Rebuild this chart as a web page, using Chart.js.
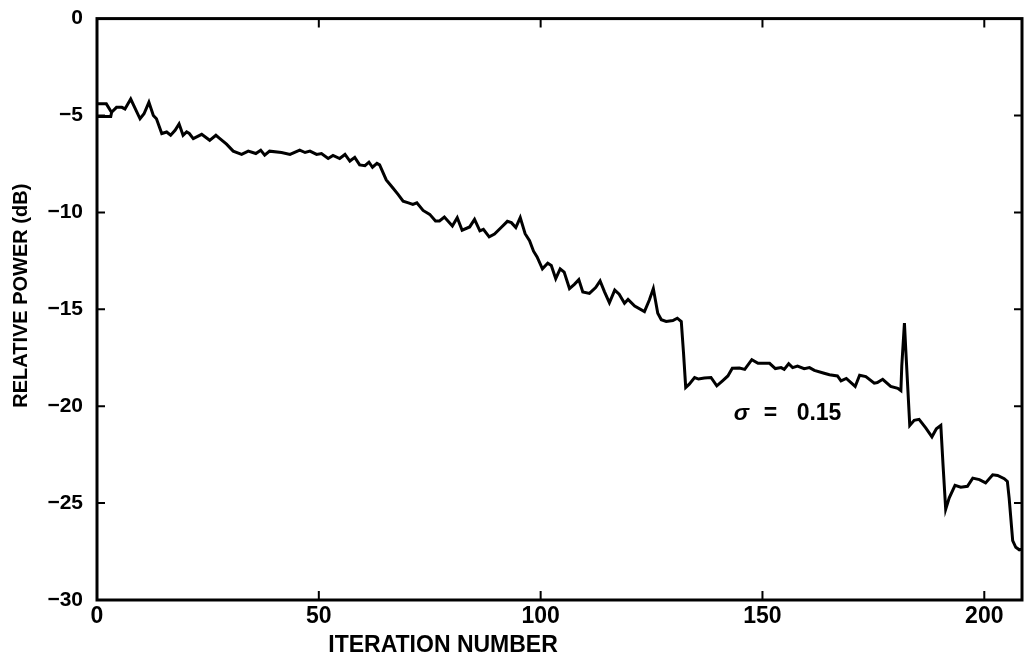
<!DOCTYPE html>
<html>
<head>
<meta charset="utf-8">
<script src="https://cdn.jsdelivr.net/npm/chart.js@4.4.1/dist/chart.umd.min.js"></script>
<style>
  html, body { margin: 0; padding: 0; background: #fff; }
</style>
</head>
<body>
<canvas id="power_chart" width="1027" height="657"></canvas>
<script>
// iteration number vs relative power (dB)
const iterations = [0, 3.1, 3.3, 4.4, 5.6, 6.3, 7.6, 9.7, 10.6, 11.7, 12.7, 13.4, 14.6, 15.7, 16.6, 17.6, 18.5, 19.4, 20.2, 20.8,
  21.7, 23.6, 25.4, 26.8, 27.7, 29.2, 30.7, 32.6, 34.1, 35.8, 36.9, 37.8, 38.9, 41.6, 43.5, 45.7, 46.9, 48.0, 49.5, 50.6,
  52.1, 53.2, 54.7, 55.9, 57.0, 58.1, 59.2, 60.4, 61.3, 62.1, 63.1, 63.7, 65.2, 66.7, 67.9, 69.0, 70.2, 71.2, 72.1, 73.5,
  75.0, 76.3, 77.2, 78.3, 80.1, 81.2, 82.3, 84.0, 85.1, 86.3, 87.1, 88.4, 89.6, 91.1, 92.5, 93.4, 94.4, 95.4, 96.5, 97.5,
  98.4, 99.2, 100.4, 101.6, 102.4, 103.4, 104.4, 105.3, 106.5, 107.6, 108.6, 109.5, 111.0, 112.4, 113.4, 114.4, 115.5, 116.7, 117.7, 118.9,
  119.7, 121.2, 123.4, 124.5, 125.4, 126.4, 127.2, 128.3, 129.8, 130.8, 131.7, 132.2, 132.7, 133.5, 134.7, 135.6, 136.9, 138.4, 139.7, 141.0,
  142.2, 143.2, 144.8, 146.0, 147.6, 149.0, 151.6, 152.9, 154.2, 154.9, 155.9, 156.8, 157.9, 159.4, 160.6, 161.7, 163.9, 165.1, 166.9, 167.7,
  168.9, 170.9, 171.9, 173.3, 175.2, 175.9, 177.1, 178.9, 180.5, 181.2, 181.4, 182.0, 182.3, 183.2, 184.2, 185.3, 186.8, 188.2, 189.2, 190.2,
  190.7, 191.3, 192.1, 193.4, 194.7, 196.2, 197.4, 198.9, 200.3, 201.9, 203.0, 204.5, 205.2, 205.6, 206.4, 207.1, 207.9, 209.0];
const powerDb = [-5.05, -5.05, -4.83, -4.58, -4.58, -4.66, -4.15, -5.17, -4.91, -4.32, -5.0, -5.17, -5.93, -5.85, -6.02, -5.76, -5.43, -6.02, -5.85, -5.93,
  -6.19, -5.97, -6.28, -6.02, -6.19, -6.48, -6.84, -7.01, -6.84, -6.96, -6.79, -7.05, -6.84, -6.91, -7.01, -6.79, -6.91, -6.84, -7.01, -6.96,
  -7.22, -7.06, -7.22, -7.01, -7.35, -7.16, -7.55, -7.59, -7.41, -7.67, -7.47, -7.55, -8.32, -8.74, -9.08, -9.42, -9.51, -9.59, -9.51, -9.90,
  -10.1, -10.44, -10.44, -10.24, -10.70, -10.27, -10.92, -10.75, -10.36, -10.95, -10.87, -11.26, -11.12, -10.78, -10.46, -10.53, -10.78, -10.27, -11.1, -11.46,
  -12.0, -12.3, -12.91, -12.62, -12.74, -13.42, -12.91, -13.08, -13.93, -13.71, -13.47, -14.1, -14.18, -13.88, -13.54, -14.1, -14.66, -14.01, -14.22, -14.69,
  -14.49, -14.83, -15.12, -14.52, -13.93, -15.2, -15.54, -15.63, -15.58, -15.46, -15.63, -17.24, -19.03, -18.86, -18.52, -18.6, -18.55, -18.52, -18.95, -18.69,
  -18.44, -18.04, -18.03, -18.1, -17.6, -17.79, -17.79, -18.06, -18.01, -18.1, -17.81, -18.01, -17.93, -18.06, -18.01, -18.15, -18.3, -18.38, -18.44, -18.69,
  -18.57, -18.98, -18.4, -18.47, -18.81, -18.78, -18.61, -18.98, -19.08, -19.2, -17.93, -15.71, -17.08, -20.99, -20.73, -20.68, -21.12, -21.58, -21.16, -20.99,
  -23.03, -25.32, -24.73, -24.08, -24.18, -24.13, -23.71, -23.79, -23.96, -23.54, -23.57, -23.74, -23.88, -24.73, -26.94, -27.28, -27.41, -27.36];

// the short upper stroke at the very start of the trace
const startIter = [0, 2.1, 3.3];
const startPower = [-4.4, -4.4, -4.85];

const xTickStep = 50;
const yTickStep = 5;
const xTitle = "ITERATION NUMBER";
const yTitle = "RELATIVE POWER (dB)";
const sigmaText = ["\u03c3", "=", "0.15"];

const FONT = "'Liberation Sans', Arial, Helvetica, sans-serif";

const toPoints = (xs, ys) => xs.map((x, i) => ({ x: x, y: ys[i] }));

// frame, inward ticks, titles and the sigma note
const frame_plugin = {
  id: "frame_plugin",
  afterDraw(chart) {
    const ctx = chart.ctx;
    const a = chart.chartArea;
    const xs = chart.scales.x;
    const ys = chart.scales.y;
    ctx.save();
    ctx.strokeStyle = "#000";
    ctx.lineWidth = 3;
    ctx.strokeRect(a.left, a.top, a.right - a.left, a.bottom - a.top);

    ctx.lineWidth = 2;
    ctx.beginPath();
    xs.ticks.forEach(t => {
      if (t.value <= xs.min || t.value >= xs.max) return;
      const px = xs.getPixelForValue(t.value);
      ctx.moveTo(px, a.bottom); ctx.lineTo(px, a.bottom - 9);
      ctx.moveTo(px, a.top); ctx.lineTo(px, a.top + 9);
    });
    ys.ticks.forEach(t => {
      if (t.value <= ys.min || t.value >= ys.max) return;
      const py = ys.getPixelForValue(t.value);
      ctx.moveTo(a.left, py); ctx.lineTo(a.left + 8, py);
      ctx.moveTo(a.right, py); ctx.lineTo(a.right - 8, py);
    });
    ctx.stroke();

    ctx.fillStyle = "#000";
    ctx.font = "bold 23px " + FONT;
    ctx.textAlign = "center";
    ctx.textBaseline = "alphabetic";
    ctx.fillText(xTitle, xs.getPixelForValue(78), 652);

    ctx.save();
    ctx.translate(21, ys.getPixelForValue(-14.3));
    ctx.rotate(-Math.PI / 2);
    ctx.font = "bold 20px " + FONT;
    ctx.textBaseline = "middle";
    ctx.fillText(yTitle, 0, 0);
    ctx.restore();

    const base = ys.getPixelForValue(-20.7);
    ctx.textAlign = "left";
    ctx.font = "italic bold 23px " + FONT;
    ctx.fillText(sigmaText[0], xs.getPixelForValue(143.5), base);
    ctx.font = "bold 23px " + FONT;
    ctx.fillText(sigmaText[1], xs.getPixelForValue(150.3), base);
    ctx.fillText(sigmaText[2], xs.getPixelForValue(157.7), base);
    ctx.restore();
  }
};

const power_chart = new Chart(document.getElementById("power_chart"), {
  type: "scatter",
  data: {
    datasets: [
      {
        data: toPoints(iterations, powerDb),
        showLine: true,
        borderColor: "#000",
        borderWidth: 3,
        pointRadius: 0,
        tension: 0
      },
      {
        data: toPoints(startIter, startPower),
        showLine: true,
        borderColor: "#000",
        borderWidth: 3,
        pointRadius: 0,
        tension: 0
      }
    ]
  },
  options: {
    responsive: false,
    animation: false,
    devicePixelRatio: 1,
    layout: { padding: { left: 0, top: 12, right: 5, bottom: 0 } },
    plugins: {
      legend: { display: false },
      tooltip: { enabled: false }
    },
    scales: {
      x: {
        type: "linear",
        min: 0,
        max: 208.5,
        afterFit: s => { s.height = 57; },
        grid: { display: false },
        border: { display: false },
        ticks: {
          stepSize: xTickStep,
          includeBounds: false,
          maxRotation: 0,
          autoSkip: false,
          padding: -5,
          color: "#000",
          font: { family: FONT, size: 23, weight: "bold" }
        }
      },
      y: {
        min: -30,
        max: 0,
        afterFit: s => { s.width = 97; },
        grid: { display: false },
        border: { display: false },
        ticks: {
          stepSize: yTickStep,
          padding: 6,
          color: "#000",
          font: { family: FONT, size: 21, weight: "bold" },
          callback: v => (v < 0 ? "\u2212" + Math.abs(v) : String(v))
        }
      }
    }
  },
  plugins: [frame_plugin]
});
</script>
</body>
</html>
